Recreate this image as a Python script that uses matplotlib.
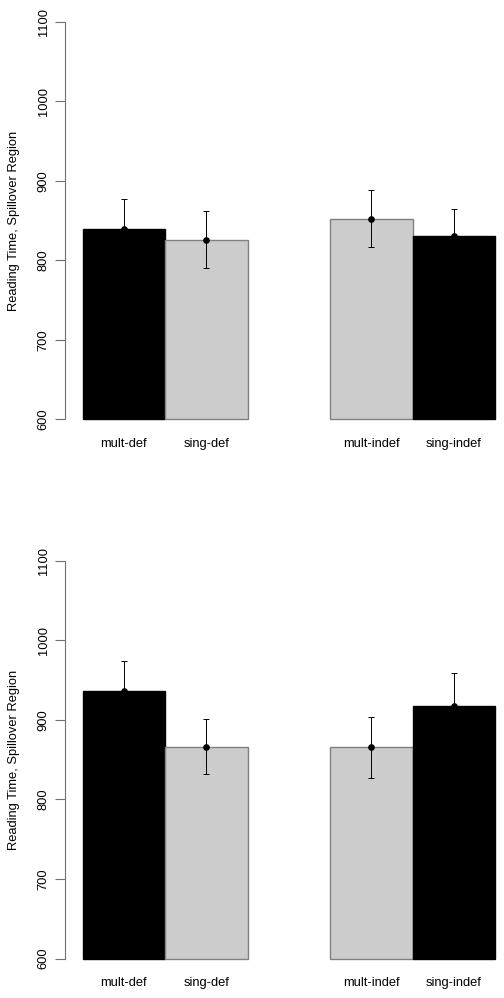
import numpy as np
import matplotlib
matplotlib.use("Agg")
import matplotlib.pyplot as plt

plt.rcParams['font.family'] = ['Liberation Sans', 'DejaVu Sans']

conds = ["mult-def", "sing-def", "mult-indef", "sing-indef"]
xpos = [0.5, 1.5, 3.5, 4.5]

top_means = [839, 826, 852.5, 830.5]
top_err = [37.5, 36, 35.5, 34.5]
top_cols = ["black", "#cccccc", "#cccccc", "black"]

bot_means = [936.5, 866.5, 865.5, 917.5]
bot_err = [37.7, 34.5, 38, 41.5]
bot_cols = ["black", "#cccccc", "#cccccc", "black"]

W, H = 504, 998
fig = plt.figure(figsize=(W/100, H/100), dpi=100)
fs = 9.3

def panel(rect, means, err, cols, label_y):
    ax = fig.add_axes(rect)
    edges = ["black" if c == "black" else "#808080" for c in cols]
    ax.bar(xpos, np.array(means) - 600, bottom=600, width=1.0, color=cols,
           edgecolor=edges, linewidth=1.0, zorder=2)
    ax.errorbar(xpos, means, yerr=err, fmt='o', color='black', ms=3.8,
                ecolor="black", elinewidth=0.7, capsize=2.2, capthick=0.7, zorder=3)
    ax.set_xlim(-0.215, 5.215)
    ax.set_ylim(580, 1120)
    for s in ['top', 'right', 'bottom']:
        ax.spines[s].set_visible(False)
    ax.spines['left'].set_bounds(600, 1100)
    ax.spines['left'].set_color("#707070")
    ax.set_yticks([600, 700, 800, 900, 1000, 1100])
    ax.tick_params(axis='y', length=7, color="#707070", labelsize=fs, pad=4)
    for t in ax.get_yticklabels():
        t.set_rotation(90)
        t.set_va('center')
    ax.set_xticks(xpos)
    ax.set_xticklabels(conds)
    ax.tick_params(axis='x', length=0, labelsize=fs, pad=2)
    fig.text(14/W, label_y, "Reading Time, Spillover Region", rotation=90,
             ha='center', va='center', fontsize=fs)
    return ax

axw = (512.7 - 65) / W
panel([65/W, 1 - 435.4/H, axw, (435.4 - 5.6)/H], top_means, top_err, top_cols, 1 - 220.5/H)
panel([65/W, 1 - 974.6/H, axw, (974.6 - 544.8)/H], bot_means, bot_err, bot_cols, 1 - 759.7/H)

fig.savefig("out.png", dpi=100)
